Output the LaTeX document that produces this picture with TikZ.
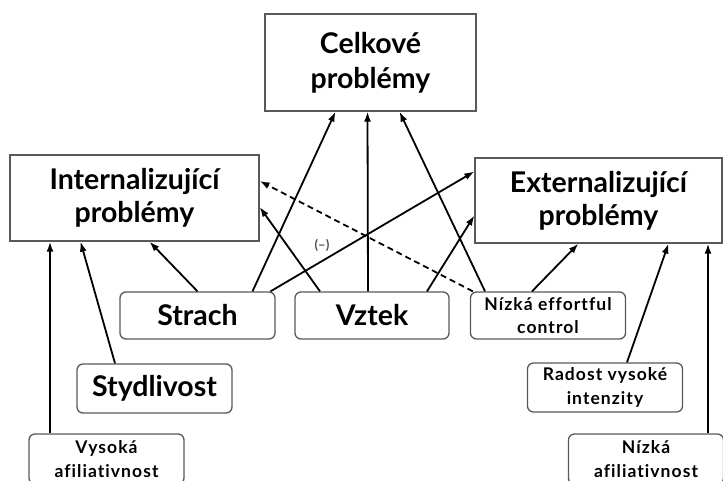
\documentclass[tikz,border=0pt]{standalone}
\usepackage{fontspec}
\setmainfont{Lato}
\usetikzlibrary{arrows.meta}

\begin{document}
\begin{tikzpicture}[x=1pt,y=-1pt,
    problem/.style ={rectangle, draw=black!65, line width=1.3pt, inner sep=0pt,
                     align=center, font=\bfseries\fontsize{28.5}{35}\selectfont},
    trait/.style   ={rectangle, rounded corners=6pt, draw=black!65, line width=1.3pt,
                     inner sep=0pt, align=center, minimum width=155pt,
                     font=\bfseries\fontsize{28.5}{30}\selectfont},
    smalltrait/.style={trait, font=\bfseries\addfontfeatures{LetterSpace=6,Ligatures=NoCommon}\fontsize{17.5}{23.5}\selectfont},
    link/.style    ={line width=1.8pt, -{Latex[length=10pt,width=7pt]}}]
   \useasboundingbox (0,0) rectangle (723,481);
   % vysledne problemy
   \node[problem, minimum width=211pt, minimum height=97pt] (cel) at (370.5,62.5) {Celkové\\problémy};
   \node[problem, minimum width=249pt, minimum height=86pt, font=\bfseries\fontsize{28.5}{33}\selectfont] (int) at (134.5,198) {Internalizující\\problémy};
   \node[problem, minimum width=247pt, minimum height=85pt, font=\bfseries\fontsize{28.5}{33}\selectfont] (ext) at (598.5,200.5) {Externalizující\\problémy};
   % temperament
   \node[trait, minimum height=47pt] (strach) at (197.5,315.5) {Strach};
   \node[trait, minimum width=154pt, minimum height=47pt] (vztek) at (372,315.5) {Vztek};
   \node[smalltrait, minimum height=47pt] (nec) at (548,315.5) {Nízká effortful\\control};
   \node[trait, minimum height=49pt] (styd) at (154.5,388.5) {Stydlivost};
   \node[smalltrait, minimum height=49pt] (rad) at (605,387.5) {Radost vysoké\\intenzity};
   \node[smalltrait, minimum height=50pt] (vys) at (106.5,459) {Vysoká\\afiliativnost};
   \node[smalltrait, minimum height=50pt] (nafil) at (646,459) {Nízká\\afiliativnost};
   % sipky
   \draw[link] (strach.north) -- ([xshift=15]int.south);
   \draw[link] ([xshift=55]strach.north) -- ([xshift=-35]cel.south);
   \draw[link] ([xshift=73]strach.north) -- ([yshift=29]ext.west);
   \draw[link] ([xshift=-52]vztek.north) -- ([yshift=-9]int.east);
   \draw[link] ([xshift=-4]vztek.north) -- ([xshift=-3]cel.south);
   \draw[link] ([xshift=55]vztek.north) -- ([yshift=-15]ext.west);
   \draw[link] ([xshift=-63]nec.north) -- ([xshift=29]cel.south);
   \draw[link, dash pattern=on 6pt off 4pt] ([xshift=3]nec.north west) -- ([yshift=17]int.east);
   \draw[link] ([xshift=-16]nec.north) -- ([xshift=-20]ext.south);
   \draw[link] ([xshift=22]rad.north) -- ([xshift=70]ext.south);
   \draw[link] ([xshift=62]nafil.north) -- ([xshift=109.5]ext.south);
   \draw[link] ([xshift=-56.5]vys.north) -- ([xshift=-84.5]int.south);
   \draw[link] ([xshift=-39.5]styd.north) -- ([xshift=-54]int.south);
   \node[font=\bfseries\fontsize{13}{15}\selectfont, text=black!70] (minus) at (322,245) {(--)};
\end{tikzpicture}
\end{document}
